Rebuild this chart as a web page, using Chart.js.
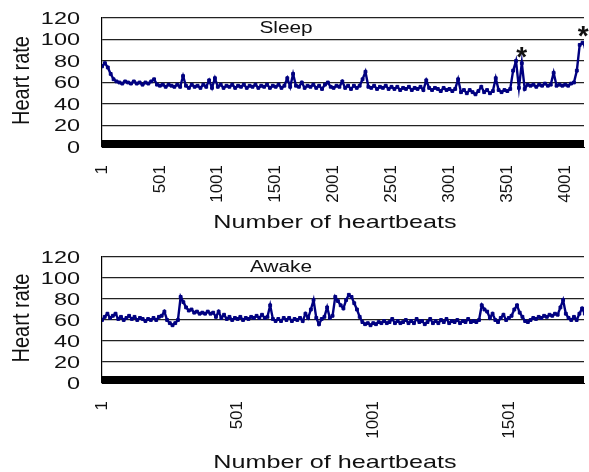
<!DOCTYPE html>
<html lang="en">
<head>
<meta charset="UTF-8">
<title>Heart rate during sleep and while awake</title>
<script src="https://cdn.jsdelivr.net/npm/chart.js"></script>
<style>
  body { margin: 0; background: #fff; overflow: hidden; }
  .panel { width: 589px; height: 236px; }
</style>
</head>
<body>
<div class="panel"><canvas id="sleepChart" width="589" height="236"></canvas></div>
<div class="panel"><canvas id="awakeChart" width="589" height="236"></canvas></div>

<script>
// heart rate sampled every 25 beats (sleep) and every 10 beats (awake)
const sleepStep = 25;
const sleepHR = [
  75,78,74,68,63,61,60,59,61,60,59,61,59,60,58,60,59,61,63,58,
  57,58,56,58,57,56,58,56,66,57,55,58,56,57,55,58,56,62,55,64,
  56,58,55,57,56,58,55,57,56,58,55,57,56,58,55,57,56,58,55,57,
  56,58,55,57,64,56,68,57,56,60,55,57,56,58,55,57,54,58,60,56,
  55,57,56,61,55,57,54,57,55,57,63,70,56,55,57,54,56,55,57,54,
  56,54,56,53,55,54,56,53,55,54,56,53,62,55,53,55,54,52,55,53,
  54,52,54,63,51,53,50,53,51,49,52,56,51,53,50,52,64,53,51,53,
  52,54,71,80,55,78,54,58,57,58,56,58,57,59,57,58,69,57,58,57,
  58,57,59,60,71,95,97,93
];
const sleepTicks = [1, 501, 1001, 1501, 2001, 2501, 3001, 3501, 4001];
const sleepMarks = [{ beat: 3625, hr: 89 }, { beat: 4155, hr: 109 }];

const awakeStep = 10;
const awakeHR = [
  60,63,66,62,64,66,61,63,60,62,64,61,63,60,62,61,59,61,60,62,
  60,63,64,68,60,57,55,57,60,82,77,72,69,70,67,68,66,67,66,68,
  66,67,63,68,62,65,61,63,60,62,61,63,60,62,61,63,62,64,62,65,
  62,63,74,61,59,61,59,62,60,62,59,61,60,62,59,66,62,70,79,62,
  56,61,63,72,62,64,82,78,74,71,79,84,82,76,70,63,58,56,57,55,
  57,56,58,57,59,57,58,61,57,59,57,58,60,57,59,57,61,58,59,56,
  58,61,57,59,57,60,58,61,57,59,58,60,57,59,58,61,58,59,58,60,
  74,70,68,62,66,60,58,62,65,60,62,64,70,74,67,63,59,58,60,62,
  61,63,62,64,63,65,64,66,65,72,79,66,62,60,63,60,66,71,66
];
const awakeTicks = [1, 501, 1001, 1501];

const yTicks = [0, 20, 40, 60, 80, 100, 120];
const SANS = '"Liberation Sans", Arial, sans-serif';
const INK = '#111';
const NAVY = '#000080';

// text drawn with a horizontal stretch, like the wide print lettering
function wideText(ctx, text, x, y, size, sx, align, rot) {
  ctx.save();
  ctx.font = size + 'px ' + SANS;
  ctx.fillStyle = INK;
  ctx.textAlign = align;
  ctx.textBaseline = 'middle';
  ctx.translate(x, y);
  if (rot) {
    ctx.rotate(-Math.PI / 2);
    ctx.scale(1, sx);
  } else {
    ctx.scale(sx, 1);
  }
  ctx.fillText(text, 0, 0);
  ctx.restore();
}

const panelText = {
  id: 'panelText',
  beforeDatasetsDraw(chart) {
    // dense tick marks along the zero line form a solid black strip
    const { ctx, chartArea } = chart;
    const y0 = chart.scales.y.getPixelForValue(0);
    ctx.save();
    ctx.fillStyle = '#000';
    ctx.fillRect(chartArea.left, y0 - 7, chartArea.right - chartArea.left, 7.5);
    ctx.restore();
  },
  afterDraw(chart, args, opts) {
    const { ctx, chartArea } = chart;
    const ys = chart.scales.y, xs = chart.scales.x;
    yTicks.forEach(v => {
      wideText(ctx, String(v), chartArea.left - 22, ys.getPixelForValue(v) + 1, 17, 1.38, 'right');
    });
    wideText(ctx, 'Heart rate', 23, (chartArea.top + chartArea.bottom) / 2 - 2, 20, 1.15, 'center', true);
    wideText(ctx, 'Number of heartbeats', 335, opts.titleY, 18.5, 1.36, 'center');
    wideText(ctx, opts.caption, chartArea.left + opts.capX, chartArea.top + 11, 16, 1.3, 'center');
    (opts.marks || []).forEach(m => {
      ctx.save();
      ctx.font = 'bold 28px ' + SANS;
      ctx.fillStyle = INK;
      ctx.textAlign = 'center';
      ctx.textBaseline = 'alphabetic';
      ctx.fillText('*', xs.getPixelForValue(m.beat), ys.getPixelForValue(m.hr) + 15);
      ctx.restore();
    });
  }
};

function makeChart(id, values, step, xMax, xTicks, text, top) {
  return new Chart(document.getElementById(id), {
    type: 'line',
    data: {
      datasets: [{
        data: values.map((hr, i) => ({ x: 1 + i * step, y: hr })),
        borderColor: NAVY,
        backgroundColor: NAVY,
        borderWidth: 2.4,
        pointStyle: 'rect',
        pointRadius: 2,
        pointBackgroundColor: NAVY,
        pointBorderColor: NAVY,
        pointBorderWidth: 1,
        tension: 0
      }]
    },
    options: {
      responsive: false,
      animation: false,
      layout: { padding: { left: 102, top: top, right: 0, bottom: 0 } },
      plugins: {
        legend: { display: false },
        tooltip: { enabled: false },
        panelText: text
      },
      scales: {
        x: {
          type: 'linear',
          min: 1,
          max: xMax,
          grid: { display: false, drawTicks: false },
          border: { display: true, color: '#000' },
          ticks: {
            font: { family: SANS, size: 17 },
            color: INK,
            minRotation: 90,
            maxRotation: 90,
            padding: 18,
            autoSkip: false,
            callback: v => String(v)
          },
          afterBuildTicks: s => { s.ticks = xTicks.map(v => ({ value: v })); },
          afterFit: s => { s.height = 89; s.paddingLeft = 0; s.paddingRight = 0; }
        },
        y: {
          min: 0,
          max: 120,
          ticks: { stepSize: 20, display: false },
          grid: { color: '#222', lineWidth: 1.2, drawTicks: false },
          border: { color: '#000', width: 1.2 },
          afterFit: s => { s.width = 0; }
        }
      }
    },
    plugins: [panelText]
  });
}

makeChart('sleepChart', sleepHR, sleepStep, 4163, sleepTicks,
  { caption: 'Sleep', capX: 184, titleY: 223, marks: sleepMarks }, 18);
makeChart('awakeChart', awakeHR, awakeStep, 1778, awakeTicks,
  { caption: 'Awake', capX: 179, titleY: 227, marks: [] }, 21);
</script>
</body>
</html>
